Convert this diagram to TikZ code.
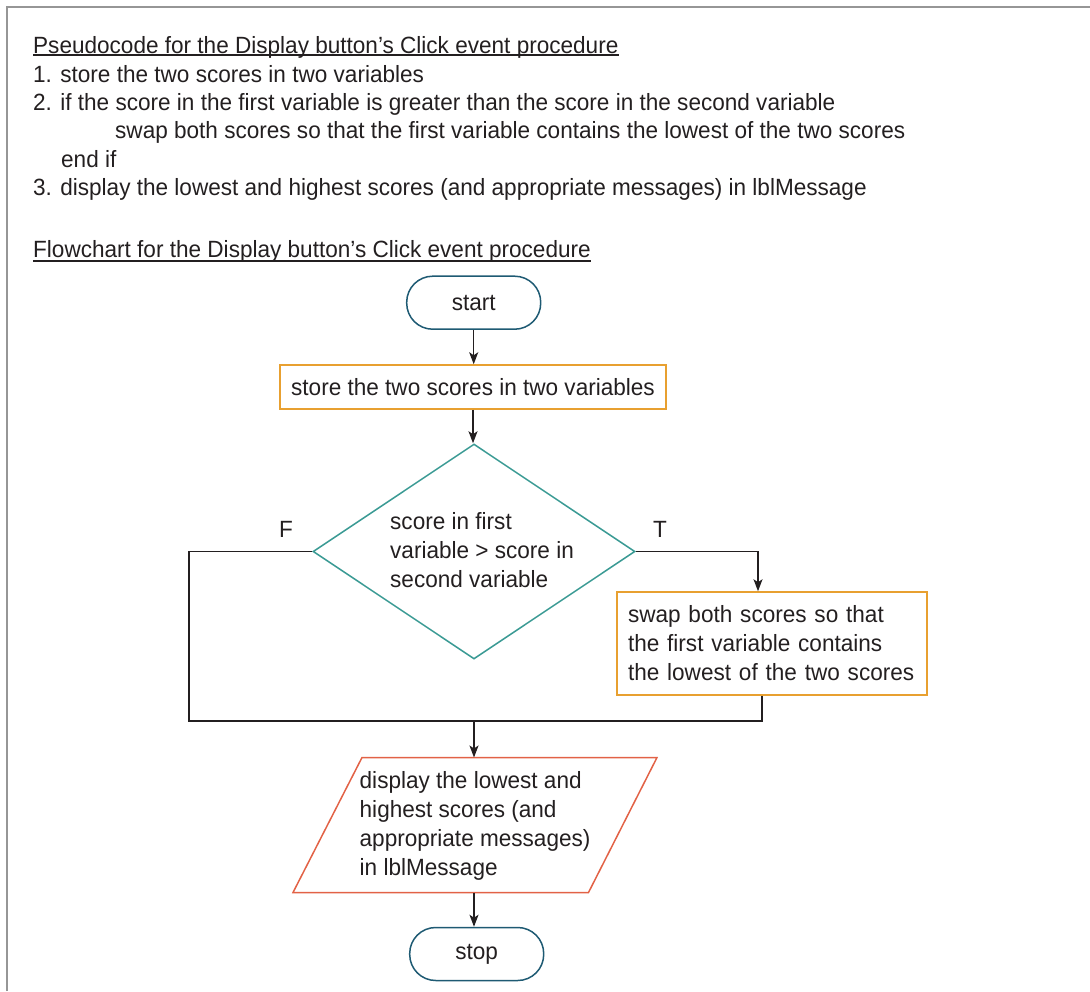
\documentclass[tikz,border=0pt]{standalone}
\usepackage{fontspec}
\setmainfont{Liberation Sans}[FakeStretch=0.96]
\usetikzlibrary{arrows.meta,shapes.geometric}
\definecolor{ink}{RGB}{35,31,32}
\definecolor{framegray}{RGB}{150,150,150}
\definecolor{termblue}{RGB}{30,90,115}
\definecolor{procorange}{RGB}{232,160,48}
\definecolor{decteal}{RGB}{58,154,148}
\definecolor{iored}{RGB}{226,98,70}

\begin{document}
\begin{tikzpicture}[x=1pt,y=-1pt,
  every node/.style={font=\fontsize{23.5}{29}\selectfont, text=ink},
  txt/.style={inner sep=0pt, anchor=base west},
  multi/.style={inner sep=0pt, align=left, anchor=west},
  terminal/.style={draw=termblue, line width=1.5pt, rounded corners=26pt,
    minimum width=134pt, minimum height=53pt, inner sep=0pt},
  procbox/.style={draw=procorange, line width=1.5pt, inner sep=0pt},
  decision/.style={draw=decteal, line width=1.5pt, diamond, inner sep=0pt,
    minimum width=322pt, minimum height=215pt},
  flow/.style={draw=ink, line width=1.4pt},
  arr/.style={flow, -{Stealth[length=12pt,width=9pt,inset=3pt]}},
  uline/.style={draw=ink, line width=1.2pt}
]
\useasboundingbox (0,0) rectangle (1090,991);

% frame
\draw[framegray, line width=2.2pt] (7,991) -- (7,7) -- (1090,7);

% pseudocode
\node[txt] (pstitle) at (33,53) {Pseudocode for the Display button’s Click event procedure};
\draw[uline] ([yshift=-2pt]pstitle.base west) -- ([yshift=-2pt]pstitle.base east);
\node[txt] (ps1) at (33,82) {1. store the two scores in two variables};
\node[txt] (ps2) at (33,110) {2. if the score in the first variable is greater than the score in the second variable};
\node[txt] (ps2a) at (115,138) {swap both scores so that the first variable contains the lowest of the two scores};
\node[txt] (ps2b) at (61,167) {end if};
\node[txt] (ps3) at (33,195) {3. display the lowest and highest scores (and appropriate messages) in lblMessage};

% flowchart title
\node[txt] (fctitle) at (33,257) {Flowchart for the Display button’s Click event procedure};
\draw[uline] ([yshift=-4pt]fctitle.base west) -- ([yshift=-4pt]fctitle.base east);

% flowchart shapes
\node[terminal] (start) at (473.7,302.7) {start};
\node[procbox, minimum width=386pt, minimum height=44pt] (store) at (473,387) {store the two scores in two variables};
\node[decision] (dec) at (474,551.5) {};
\node[multi] (dectext) at (390,550.5) {score in first\\variable > score in\\second variable};
\node[txt, anchor=base] (flab) at (286,537) {F};
\node[txt, anchor=base] (tlab) at (660,537) {T};
\node[procbox, minimum width=310pt, minimum height=103pt, text width=288pt, align=left] (swap) at (772,643.5)
  {swap both scores so that\\the first variable contains\\the lowest of the two scores};
\coordinate (merge) at (474,721);
\coordinate (fcorner) at (189,721);

% input/output parallelogram
\coordinate (ioNW) at (362,757.5);
\coordinate (ioNE) at (657,757.5);
\coordinate (ioSE) at (588.5,892.5);
\coordinate (ioSW) at (293,892.5);
\coordinate (iotop) at (474,757.5);
\coordinate (iobot) at (474,892.5);
\draw[iored, line width=1.5pt] (ioSW) -- (ioNW) -- (ioNE) -- (ioSE) -- cycle;
\node[multi] (iotext) at (359.5,825.5) {display the lowest and\\highest scores (and\\appropriate messages)\\in lblMessage};
\node[terminal] (stop) at (476.7,954) {stop};

% connectors
\draw[arr] (start.south) -- (start.south |- store.north);
\draw[arr] (store.south) -- (store.south |- dec.north);
\draw[flow] (dec.west) -| (fcorner) -- (merge);
\draw[arr] (dec.east) -| ([xshift=-14pt]swap.north);
\draw[flow] ([xshift=-10pt]swap.south) |- (merge);
\draw[arr] (merge) -- (iotop);
\draw[arr] (iobot) -- (iobot |- stop.north);
\end{tikzpicture}
\end{document}
